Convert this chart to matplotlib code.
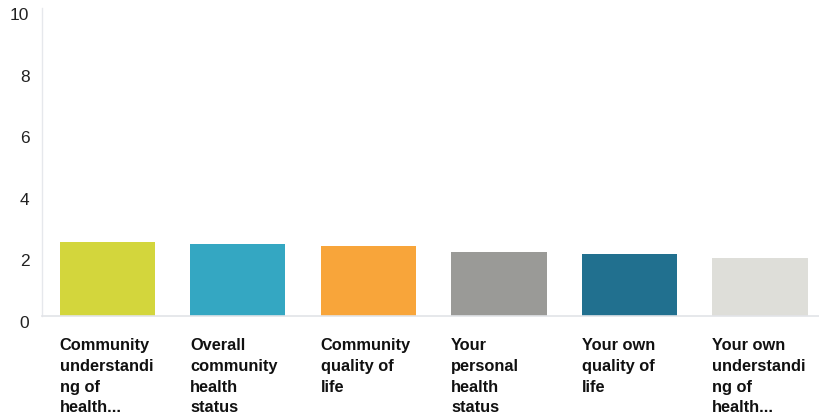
import matplotlib
matplotlib.use("Agg")
import matplotlib.pyplot as plt
import matplotlib.transforms as mtransforms

categories = [
    "Community\nunderstandi\nng of\nhealth...",
    "Overall\ncommunity\nhealth\nstatus",
    "Community\nquality of\nlife",
    "Your\npersonal\nhealth\nstatus",
    "Your own\nquality of\nlife",
    "Your own\nunderstandi\nng of\nhealth...",
]
values = [2.41, 2.33, 2.28, 2.07, 2.00, 1.89]
colors = ["#d3d63c", "#34a7c2", "#f8a53a", "#9a9a97", "#21708f", "#deded9"]
yticks = [0, 2, 4, 6, 8, 10]

plt.rcParams['font.family'] = ['Liberation Sans', 'DejaVu Sans']
fig = plt.figure(figsize=(8.2, 4.2), dpi=100)
ax = fig.add_axes([0.0512, 0.2476, 0.9488, 0.733])

width = 0.73
x = list(range(len(values)))
ax.bar(x, values, width=width, color=colors, zorder=2)
ax.set_xlim(-0.5, 5.46)
ax.set_ylim(0, 10)
ax.set_yticks(yticks)
ax.set_yticklabels([str(t) for t in yticks], fontsize=12.5, color="#222222")
ax.tick_params(axis='y', length=0, pad=9)
ax.tick_params(axis='x', length=0, labelbottom=False)
offset = mtransforms.ScaledTranslation(0, -0.06, fig.dpi_scale_trans)
for lab in ax.get_yticklabels():
    lab.set_transform(lab.get_transform() + offset)
for s in ['top', 'right']:
    ax.spines[s].set_visible(False)
ax.spines['left'].set_color('#e6e8ec')
ax.spines['bottom'].set_color('#e2e4e8')
ax.spines['left'].set_linewidth(1.0)
ax.spines['bottom'].set_linewidth(1.2)

trans = mtransforms.blended_transform_factory(ax.transData, ax.transAxes)
for xi, lab in zip(x, categories):
    ax.text(xi - width / 2, -0.072, lab, transform=trans, ha='left', va='top',
            fontsize=11.8, fontweight='bold', color='#111111', linespacing=1.48)

fig.savefig("out.png", dpi=100)
